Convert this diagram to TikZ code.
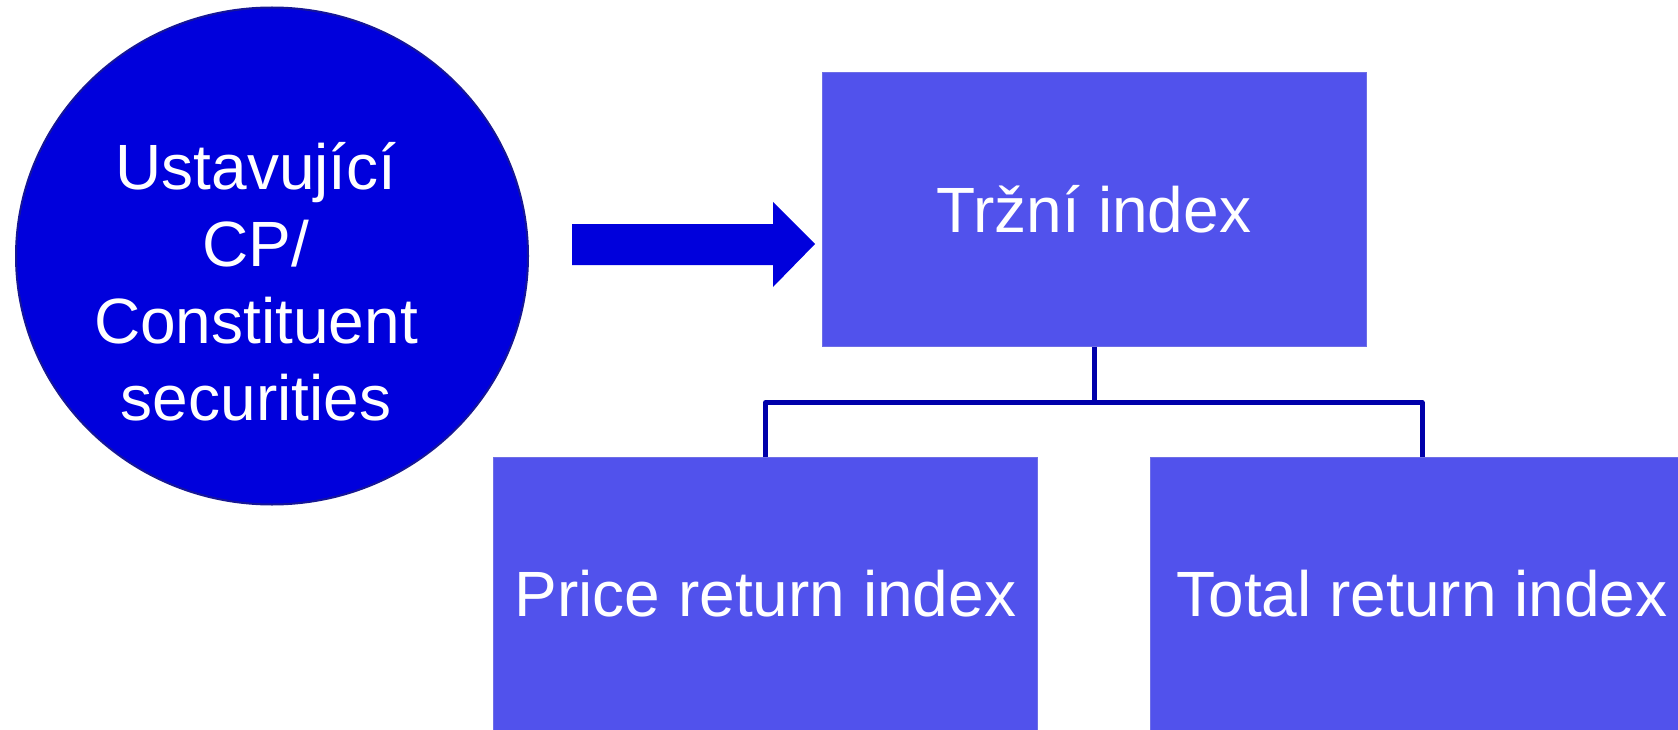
\documentclass[tikz,border=0pt]{standalone}
\usepackage{fontspec}
\setmainfont{Liberation Sans}
\usetikzlibrary{shapes.geometric}
\definecolor{srcblue}{RGB}{0,0,220}
\definecolor{srcedge}{RGB}{22,22,150}
\definecolor{boxfill}{RGB}{81,82,236}
\definecolor{boxedge}{RGB}{110,110,230}
\definecolor{linkblue}{RGB}{0,0,170}
\tikzset{
  idxbox/.style={rectangle, fill=boxfill, draw=boxedge, line width=1pt,
    minimum width=544pt, minimum height=273pt, inner sep=0pt,
    text=white, font=\fontsize{64}{77}\selectfont,
    text height=45.8pt, text depth=0pt},
  srcnode/.style={ellipse, fill=srcblue, draw=srcedge, line width=2pt,
    minimum width=512pt, minimum height=497pt, inner sep=0pt},
  srctext/.style={text=white, align=center, inner sep=0pt,
    font=\fontsize{64}{77}\selectfont},
  link/.style={draw=linkblue, line width=5pt, line join=round},
}
\begin{document}
\begin{tikzpicture}[x=1pt, y=-1pt]
  \useasboundingbox (0,0) rectangle (1678,730);
  \clip (0,0) rectangle (1678,730);

  % source securities
  \node[srcnode] (src) at (272,256) {};
  \node[srctext, anchor=south] (srclabel) at (256,421)
    {Ustavující\\CP/\\Constituent\\securities};

  % block arrow
  \fill[srcblue] (572,224) -- (773,224) -- (773,202) -- (815,244)
    -- (773,287) -- (773,265) -- (572,265) -- cycle;

  % index boxes
  \node[idxbox] (mkt) at (1094,209.5) {Tržní index};
  \node[idxbox] (pri) at (765.5,594) {Price return index};
  \node[idxbox] (tot) at (1422,594) {Total return index};

  % tree connectors
  \coordinate (j) at (1094,402.5);
  \draw[link] (mkt.south) -- (j);
  \draw[link] (pri.north) |- (j) -| (tot.north);
\end{tikzpicture}
\end{document}
